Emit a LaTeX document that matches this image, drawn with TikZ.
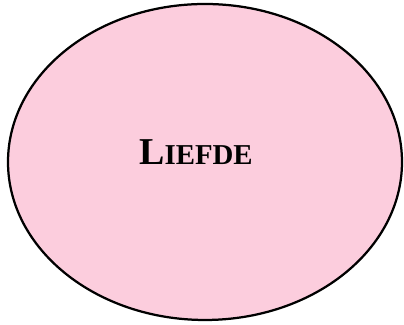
\documentclass[tikz,border=0pt]{standalone}
\usepackage{fontspec}
\setmainfont{Liberation Serif}
\usepackage{tikz}
\usetikzlibrary{shapes.geometric, positioning}
\definecolor{liefdepink}{RGB}{252,205,221}

\begin{document}
\begin{tikzpicture}[
  bubble/.style={draw=black, fill=liefdepink, ellipse, line width=1.6pt,
                 minimum width=9.85cm, minimum height=7.9cm, inner sep=0pt},
  word/.style={anchor=base, text=black, font=\bfseries, inner sep=0pt}
]
  %% Frame
  \useasboundingbox (0,0) rectangle (10.1,8.125);

  %% Ellipse and its word
  \node[bubble] (liefde) at (5.125,4.075) {};
  \node[word] (liefdeword) at (4.9,4.0)
    {{\fontsize{27pt}{30pt}\selectfont L}{\fontsize{20.5pt}{23pt}\selectfont IEFDE}};
\end{tikzpicture}
\end{document}
